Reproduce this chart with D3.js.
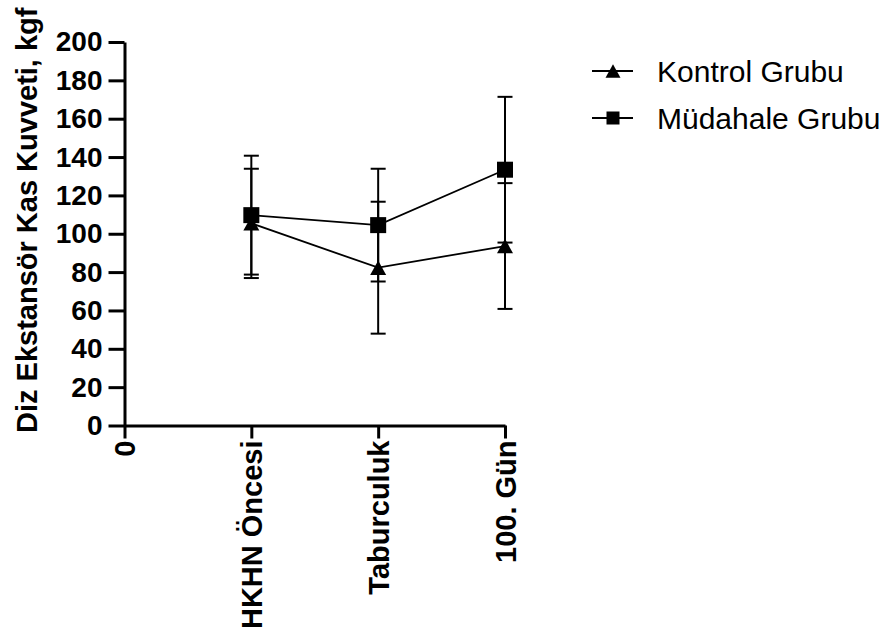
<!DOCTYPE html>
<html>
<head>
<meta charset="utf-8">
<script src="https://cdn.jsdelivr.net/npm/d3@7"></script>
<style>
  body { margin: 0; background: #fff; }
  text { font-family: "Liberation Sans", Arial, sans-serif; }
</style>
</head>
<body>
<script>
// values
var categories = ["HKHN Öncesi", "Taburculuk", "100. Gün"];
var kontrolMean = [105.4, 82.3, 93.6];
var kontrolSD = [28.5, 34.4, 32.8];
var mudahaleMean = [109.7, 104.5, 133.4];
var mudahaleSD = [31, 29.4, 38];
var yTicks = [0, 20, 40, 60, 80, 100, 120, 140, 160, 180, 200];
var seriesNames = ["Kontrol Grubu", "Müdahale Grubu"];

var width = 891, height = 633;
var svg = d3.select("body").append("svg")
    .attr("width", width)
    .attr("height", height);

var x = d3.scaleLinear().domain([0, 3]).range([124.5, 505]);
var y = d3.scaleLinear().domain([0, 200]).range([425.5, 42]);

// y axis
var yAxis = svg.append("g")
    .attr("transform", "translate(" + x(0) + ",0)")
    .call(d3.axisLeft(y).tickValues(yTicks).tickSize(16).tickPadding(6).tickSizeOuter(0));
yAxis.select(".domain").attr("stroke-width", 3);
yAxis.selectAll(".tick line").attr("stroke-width", 3);
yAxis.selectAll(".tick text")
    .attr("font-size", 28).attr("font-weight", "bold").attr("fill", "#000");

// x axis
var xLabels = ["0"].concat(categories);
var xAxis = svg.append("g")
    .attr("transform", "translate(0," + y(0) + ")")
    .call(d3.axisBottom(x).tickValues([0, 1, 2, 3])
      .tickFormat(function(d){ return xLabels[d]; })
      .tickSize(13).tickSizeOuter(0));
xAxis.select(".domain").attr("stroke-width", 3);
xAxis.selectAll(".tick line").attr("stroke-width", 3);
xAxis.selectAll(".tick text")
    .attr("font-size", 29).attr("font-weight", "bold").attr("fill", "#000")
    .attr("text-anchor", "end")
    .attr("transform", "rotate(-90)")
    .attr("x", -15)
    .attr("y", 0)
    .attr("dy", "0.35em");

// y label
svg.append("text")
    .attr("transform", "translate(37,433) rotate(-90)")
    .attr("text-anchor", "start")
    .attr("font-size", 29)
    .attr("font-weight", "bold")
    .text("Diz Ekstansör Kas Kuvveti, kgf");

function triPath(w) {
  var h = w * 0.9;
  return "M0," + (-h/2) + "L" + (w/2) + "," + (h/2) + "L" + (-w/2) + "," + (h/2) + "Z";
}

var series = [
  {name: seriesNames[0], mean: kontrolMean, sd: kontrolSD, shape: "tri"},
  {name: seriesNames[1], mean: mudahaleMean, sd: mudahaleSD, shape: "sq"}
];

var line = d3.line()
    .x(function(d, i){ return x(i + 1); })
    .y(function(d){ return y(d); });

series.forEach(function(s) {
  var g = svg.append("g");
  // error bars
  s.mean.forEach(function(m, i) {
    var cx = x(i + 1);
    var top = y(m + s.sd[i]), bot = y(m - s.sd[i]);
    g.append("line").attr("x1", cx).attr("x2", cx).attr("y1", top).attr("y2", bot)
      .attr("stroke", "#000").attr("stroke-width", 2);
    [top, bot].forEach(function(yy) {
      g.append("line").attr("x1", cx - 7.5).attr("x2", cx + 7.5).attr("y1", yy).attr("y2", yy)
        .attr("stroke", "#000").attr("stroke-width", 2);
    });
  });
  g.append("path").attr("d", line(s.mean))
    .attr("fill", "none").attr("stroke", "#000").attr("stroke-width", 1.8);
  s.mean.forEach(function(m, i) {
    var cx = x(i + 1), cy = y(m);
    if (s.shape == "sq") {
      g.append("rect").attr("x", cx - 8).attr("y", cy - 8).attr("width", 16).attr("height", 16).attr("fill", "#000");
    } else {
      g.append("path").attr("d", triPath(16)).attr("transform", "translate(" + cx + "," + cy + ")").attr("fill", "#000");
    }
  });
});

// legend
var legY = [71, 118];
series.forEach(function(s, i) {
  var lg = svg.append("g").attr("transform", "translate(0," + legY[i] + ")");
  lg.append("line").attr("x1", 592).attr("x2", 633).attr("y1", 0).attr("y2", 0)
    .attr("stroke", "#000").attr("stroke-width", 2);
  if (s.shape == "sq") {
    lg.append("rect").attr("x", 613 - 6.5).attr("y", -6.5).attr("width", 13).attr("height", 13).attr("fill", "#000");
  } else {
    lg.append("path").attr("d", triPath(15)).attr("transform", "translate(613,0)").attr("fill", "#000");
  }
  lg.append("text").attr("x", 657).attr("y", 0).attr("dy", "0.35em")
    .attr("font-size", 30).text(s.name);
});
</script>
</body>
</html>
